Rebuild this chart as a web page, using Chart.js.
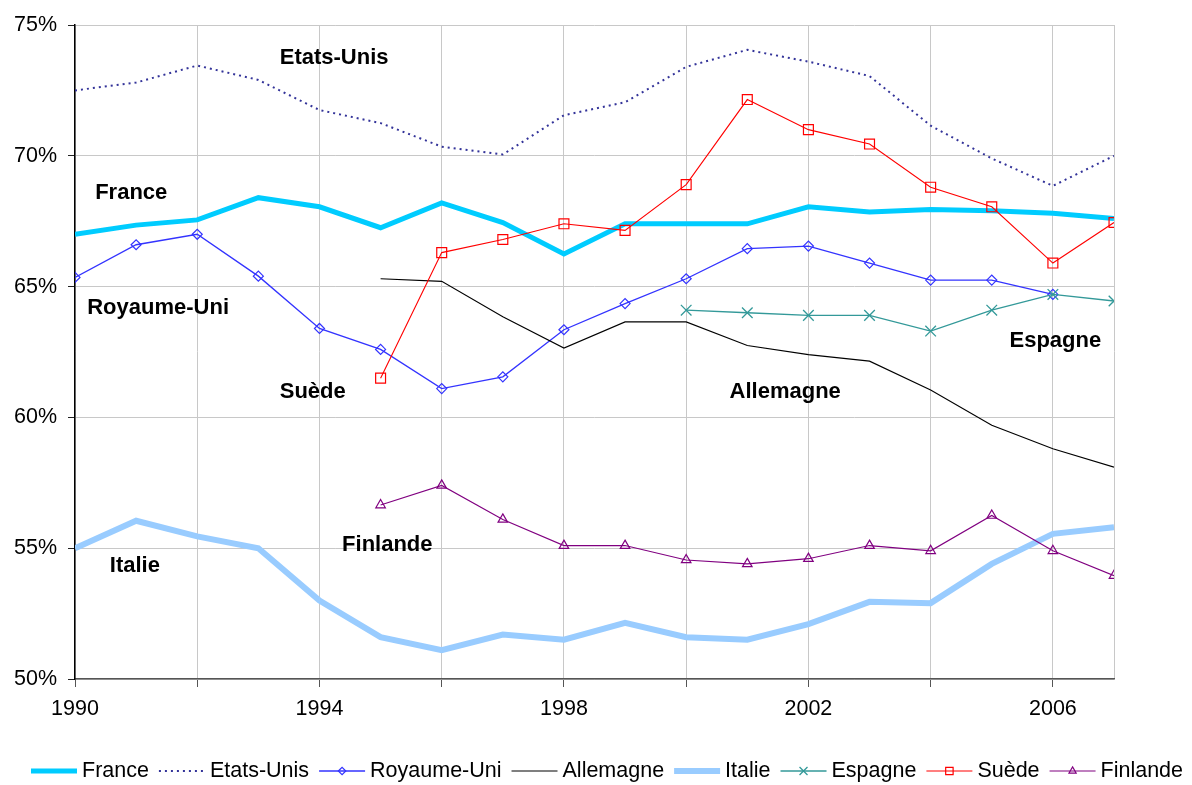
<!DOCTYPE html>
<html>
<head>
<meta charset="utf-8">
<script src="https://cdn.jsdelivr.net/npm/chart.js@4.4.1/dist/chart.umd.min.js"></script>
<style>
  html, body { margin: 0; padding: 0; background: #fff; }
  #wrap { width: 1192px; height: 785px; position: relative; }
</style>
</head>
<body>
<div id="wrap"><canvas id="c" width="1192" height="785"></canvas></div>
<script>
// ---- data ----
const years = [1990,1991,1992,1993,1994,1995,1996,1997,1998,1999,2000,2001,2002,2003,2004,2005,2006,2007];
const france     = [67.0,67.35,67.55,68.4,68.05,67.25,68.2,67.45,66.25,67.4,67.4,67.4,68.05,67.85,67.95,67.9,67.8,67.6];
const etatsUnis  = [72.5,72.8,73.45,72.9,71.75,71.25,70.35,70.05,71.55,72.05,73.4,74.05,73.6,73.05,71.15,69.9,68.85,70.0];
const royaumeUni = [65.35,66.6,67.0,65.4,63.4,62.6,61.1,61.55,63.35,64.35,65.3,66.45,66.55,65.9,65.25,65.25,64.7,null];
const allemagne  = [null,null,null,null,null,65.3,65.2,63.85,62.65,63.65,63.65,62.75,62.4,62.15,61.05,59.7,58.8,58.1];
const italie     = [55.0,56.05,55.45,55.0,53.0,51.6,51.1,51.7,51.5,52.15,51.6,51.5,52.1,52.95,52.9,54.4,55.55,55.8];
const espagne    = [null,null,null,null,null,null,null,null,null,null,64.1,64.0,63.9,63.9,63.3,64.1,64.7,64.45];
const suede      = [null,null,null,null,null,61.5,66.3,66.8,67.4,67.15,68.9,72.15,71.0,70.45,68.8,68.05,65.9,67.45];
const finlande   = [null,null,null,null,null,56.65,57.4,56.1,55.1,55.1,54.55,54.4,54.6,55.1,54.9,56.25,54.9,53.95];
const yTickValues = [50,55,60,65,70,75];
const xGridYears = [1990,1992,1994,1996,1998,2000,2002,2004,2006,2007];
const xTickLabelYears = [1990,1994,1998,2002,2006];

// in-chart annotation labels (text, anchor year, anchor value)
const annoText  = ['Etats-Unis','France','Royaume-Uni','Suède','Allemagne','Espagne','Finlande','Italie'];
const annoYear  = [1993.35,1990.33,1990.2,1993.35,2000.71,2005.29,1994.37,1990.57];
const annoValue = [73.74,68.58,64.19,60.98,60.98,62.93,55.13,54.33];

function pts(arr){ const out=[]; arr.forEach((v,i)=>{ if(v!==null) out.push({x:years[i], y:v}); }); return out; }

const FONT = '"Liberation Sans", Arial, sans-serif';

const datasets = [
  {label:'France', data:pts(france), borderColor:'#00CCFF', borderWidth:5, pointRadius:0, order:8},
  {label:'Etats-Unis', data:pts(etatsUnis), borderColor:'#333399', borderWidth:2, borderDash:[2,4], pointRadius:0, order:7},
  {label:'Royaume-Uni', data:pts(royaumeUni), borderColor:'#3333FF', borderWidth:1.3, pointStyle:'rectRot', pointRadius:5, pointBorderWidth:1.2, pointBackgroundColor:'rgba(0,0,0,0)', pointBorderColor:'#3333FF', order:6},
  {label:'Allemagne', data:pts(allemagne), borderColor:'#000000', borderWidth:1.1, pointRadius:0, order:5},
  {label:'Italie', data:pts(italie), borderColor:'#99CCFF', borderWidth:6, pointRadius:0, order:4},
  {label:'Espagne', data:pts(espagne), borderColor:'#339999', borderWidth:1.3, pointStyle:'crossRot', pointRadius:7.5, pointBorderWidth:1.3, pointBackgroundColor:'rgba(0,0,0,0)', pointBorderColor:'#339999', order:3},
  {label:'Suède', data:pts(suede), borderColor:'#FF0000', borderWidth:1.1, pointStyle:'rect', pointRadius:7, pointBorderWidth:1.2, pointBackgroundColor:'rgba(0,0,0,0)', pointBorderColor:'#FF0000', order:2},
  {label:'Finlande', data:pts(finlande), borderColor:'#800080', borderWidth:1.1, pointStyle:'triangle', pointRadius:5.5, pointBorderWidth:1.2, pointBackgroundColor:'rgba(0,0,0,0)', pointBorderColor:'#800080', order:1},
];
datasets.forEach(d => { d.tension = 0; d.fill = false; d.pointHoverRadius = d.pointRadius; });

const annoPlugin = {
  id:'anno',
  afterDatasetsDraw(chart){
    const ctx = chart.ctx, xs = chart.scales.x, ys = chart.scales.y;
    ctx.save();
    ctx.font = 'bold 22px ' + FONT;
    ctx.fillStyle = '#000';
    ctx.textAlign = 'left';
    ctx.textBaseline = 'middle';
    annoText.forEach((t,i)=>{
      ctx.fillText(t, xs.getPixelForValue(annoYear[i]), ys.getPixelForValue(annoValue[i]));
    });
    ctx.restore();
  }
};

const legendPlugin = {
  id:'customLegend',
  afterDraw(chart){
    const ctx = chart.ctx;
    ctx.save();
    ctx.font = '21.5px ' + FONT;
    ctx.textBaseline = 'middle';
    ctx.textAlign = 'left';
    const lineLen = 46, gapText = 5, gapItem = 10;
    let x = 31; const y = 771;
    chart.data.datasets.forEach(ds => {
      ctx.save();
      ctx.strokeStyle = ds.borderColor;
      ctx.lineWidth = ds.borderWidth;
      ctx.setLineDash(ds.borderDash || []);
      ctx.lineCap = 'butt';
      ctx.beginPath(); ctx.moveTo(x, y); ctx.lineTo(x+lineLen, y); ctx.stroke();
      ctx.setLineDash([]);
      if (ds.pointRadius > 0) {
        ctx.strokeStyle = ds.pointBorderColor;
        ctx.lineWidth = ds.pointBorderWidth;
        ctx.fillStyle = 'rgba(255,255,255,0)';
        Chart.helpers.drawPoint(ctx, {pointStyle: ds.pointStyle, radius: ds.pointRadius*0.75, borderWidth: ds.pointBorderWidth}, x+lineLen/2, y);
      }
      ctx.restore();
      x += lineLen + gapText;
      ctx.fillStyle = '#000';
      ctx.fillText(ds.label, x, y);
      x += ctx.measureText(ds.label).width + gapItem;
    });
    ctx.restore();
  }
};

new Chart(document.getElementById('c'), {
  type:'line',
  data:{ datasets },
  options:{
    responsive:false,
    animation:false,
    layout:{ padding:{ top:25, right:78, left:0, bottom:0 } },
    plugins:{ legend:{display:false}, tooltip:{enabled:false} },
    scales:{
      x:{
        type:'linear', min:1990, max:2007,
        afterBuildTicks:(s)=>{ s.ticks = xGridYears.map(v=>({value:v})); },
        ticks:{
          autoSkip:false, maxRotation:0, minRotation:0, padding:9,
          color:'#000', font:{family:FONT, size:21.5},
          callback:(v)=> xTickLabelYears.includes(v) ? String(v) : ''
        },
        grid:{ color:'#C8C8C8', lineWidth:1, tickLength:8,
               tickColor:(c)=> (c.tick && c.tick.value===2007) ? 'rgba(0,0,0,0)' : '#555' },
        border:{ color:'#555', width:1.5 },
        afterFit:(s)=>{ s.height = 106; }
      },
      y:{
        min:50, max:75,
        afterBuildTicks:(s)=>{ s.ticks = yTickValues.map(v=>({value:v})); },
        ticks:{ padding:11, color:'#000', font:{family:FONT, size:21.5}, callback:(v)=> v + '%' },
        grid:{ color:'#C8C8C8', lineWidth:1, tickLength:7, tickColor:'#222' },
        border:{ color:'#000', width:1.5 },
        afterFit:(s)=>{ s.width = 75; }
      }
    }
  },
  plugins:[annoPlugin, legendPlugin]
});
</script>
</body>
</html>
